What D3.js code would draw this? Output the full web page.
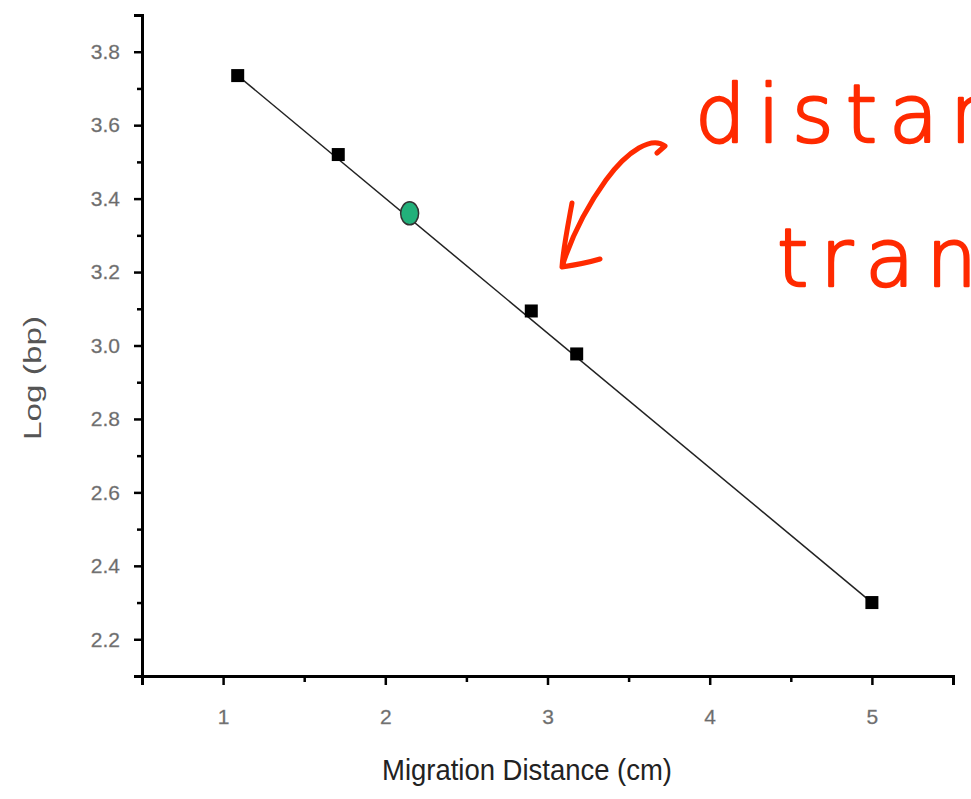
<!DOCTYPE html>
<html>
<head>
<meta charset="utf-8">
<script src="https://cdn.jsdelivr.net/npm/d3@7"></script>
<style>
  body { margin: 0; background: #fff; overflow: hidden; }
</style>
</head>
<body>
<div id="chart-area"></div>
<script>
// standards (black squares)
var distance = [1.09, 1.71, 2.90, 3.18, 5.0];
var logbp = [3.735, 3.52, 3.094, 2.977, 2.30];
// unknown band (green)
var unknownX = [2.15];
var unknownY = [3.36];
// fitted line ends
var fitX = [1.09, 5.0];
var fitY = [3.735, 2.30];

var xTicks = [1, 2, 3, 4, 5];
var xMinor = [0.5, 1.5, 2.5, 3.5, 4.5, 5.5];
var yTicks = [2.2, 2.4, 2.6, 2.8, 3.0, 3.2, 3.4, 3.6, 3.8];
var yMinor = [2.1, 2.3, 2.5, 2.7, 2.9, 3.1, 3.3, 3.5, 3.7, 3.9];

var width = 971, height = 799;
var svg = d3.select("#chart-area").append("svg")
	.attr("width", width)
	.attr("height", height);

var x = d3.scaleLinear().domain([0.5, 5.5]).range([142, 953]);
var y = d3.scaleLinear().domain([2.1, 3.9]).range([676, 15]);

var font = "'Liberation Sans', Arial, sans-serif";

// y axis
var yAxis = svg.append("g").attr("transform", "translate(142,0)")
	.call(d3.axisLeft(y).tickValues(yTicks).tickSize(8).tickPadding(14).tickFormat(d3.format(".1f")));
var yMin = svg.append("g").attr("transform", "translate(142,0)")
	.call(d3.axisLeft(y).tickValues(yMinor).tickSize(5).tickFormat(""));

// x axis
var xAxis = svg.append("g").attr("transform", "translate(0,676)")
	.call(d3.axisBottom(x).tickValues(xTicks).tickSize(9).tickPadding(24).tickFormat(d3.format("d")));
var xMin = svg.append("g").attr("transform", "translate(0,676)")
	.call(d3.axisBottom(x).tickValues(xMinor).tickSize(6).tickFormat(""));

[yAxis, yMin, xAxis, xMin].forEach((g)=>{
	g.attr("font-size", 21).attr("font-family", font);
	g.select(".domain").attr("stroke", "#000").attr("stroke-width", 3);
	g.selectAll(".tick line").attr("stroke", "#000").attr("stroke-width", 2.5);
	g.selectAll(".tick text")
		.attr("fill", "#6a6a6a")
		.attr("stroke", "#888")
		.attr("stroke-width", 0.3);
});
yMin.select(".domain").remove();
xMin.select(".domain").remove();

// axis titles
svg.append("text")
	.attr("transform", "translate(41,378) rotate(-90)")
	.attr("text-anchor", "middle")
	.attr("font-family", font)
	.attr("font-size", 23)
	.attr("textLength", 124)
	.attr("lengthAdjust", "spacingAndGlyphs")
	.attr("fill", "#555")
	.text("Log (bp)");

svg.append("text")
	.attr("x", 527)
	.attr("y", 780)
	.attr("text-anchor", "middle")
	.attr("font-family", font)
	.attr("font-size", 30)
	.attr("textLength", 290)
	.attr("lengthAdjust", "spacingAndGlyphs")
	.attr("fill", "#222")
	.text("Migration Distance (cm)");

// fit line
var line = d3.line().x((d, i)=>{return x(fitX[i])}).y((d)=>{return y(d)});
svg.append("path")
	.attr("d", line(fitY))
	.attr("fill", "none")
	.attr("stroke", "#222")
	.attr("stroke-width", 1.5);

// squares
svg.selectAll("rect.pt")
	.data(distance)
	.enter()
	.append("rect")
	.attr("class", "pt")
	.attr("x", (d)=>{return x(d) - 6.5})
	.attr("y", (d, i)=>{return y(logbp[i]) - 6.5})
	.attr("width", 13)
	.attr("height", 13)
	.attr("fill", "#000");

// unknown
svg.selectAll("ellipse")
	.data(unknownX)
	.enter()
	.append("ellipse")
	.attr("cx", (d)=>{return x(d)})
	.attr("cy", (d, i)=>{return y(unknownY[i])})
	.attr("rx", 9)
	.attr("ry", 11.5)
	.attr("fill", "#22b07a")
	.attr("stroke", "#333")
	.attr("stroke-width", 1.5);

// red handwritten note
var red = "#ff2a00";
svg.append("path")
	.attr("d", "M657,153 L665,146 C652,136 628,150 606,180 C588,205 572,235 562,267 M572,203 C568,225 563,250 562,267 C575,265 590,262 600,259")
	.attr("fill", "none")
	.attr("stroke", red)
	.attr("stroke-width", 5)
	.attr("stroke-linecap", "round")
	.attr("stroke-linejoin", "round");

var note = svg.append("g")
	.attr("font-family", "'DejaVu Sans', sans-serif")
	.attr("font-weight", "200")
	.attr("font-size", 80)
	.attr("letter-spacing", 12)
	.attr("fill", red)
	.attr("stroke", red)
	.attr("stroke-width", 2.5)
	.attr("stroke-linejoin", "round");

note.append("text")
	.attr("x", 695)
	.attr("y", 142)
	.text("distance");

note.append("text")
	.attr("x", 777)
	.attr("y", 286)
	.text("transferred");
</script>
</body>
</html>
